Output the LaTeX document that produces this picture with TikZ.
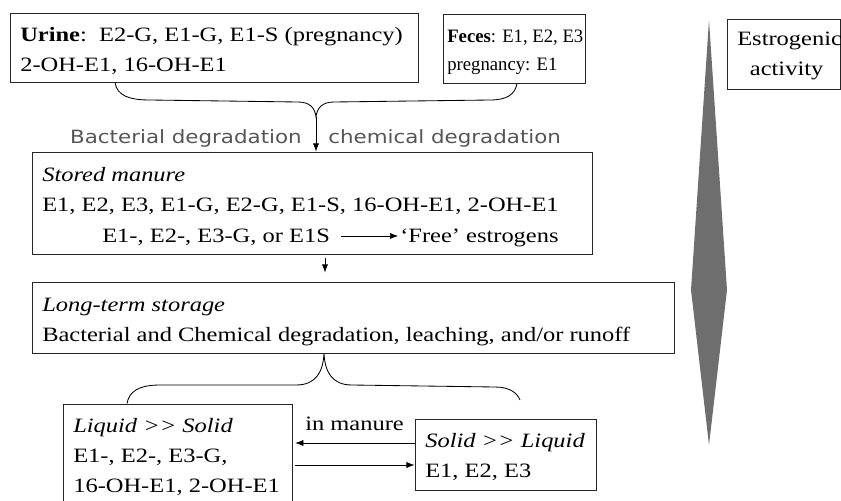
\documentclass[tikz,border=0pt]{standalone}
\usepackage{fontspec}
\usetikzlibrary{fit,arrows.meta}
\newfontfamily\tnr[FakeStretch=1.2]{Liberation Serif}
\newfontfamily\tnrn[FakeStretch=0.985]{Liberation Serif}
\newfontfamily\vrd[FakeStretch=1.17]{DejaVu Sans}
\definecolor{conegray}{HTML}{6E6E6E}
\definecolor{notegray}{HTML}{555555}
\def\txtfont{\tnr\fontsize{14.5}{21.3}\selectfont}
\def\smfont{\tnrn\fontsize{13.5}{19.8}\selectfont}
\def\arr{\draw[-{Latex[length=5.7pt,width=4.3pt]}]}

\begin{document}
\begin{tikzpicture}[x=0.025cm,y=-0.025cm,
    frame/.style={draw=black!85,line width=0.7pt,inner sep=0pt,fit={#1}},
    lines/.style={anchor=north west,inner sep=0pt,align=left,font=\txtfont},
    side/.style={inner sep=0pt,font=\vrd\fontsize{13}{16}\selectfont,text=notegray}]
\useasboundingbox (0,0) rectangle (841,500);

\node[frame={(10,13) (418,82)}] (urine) {};
\node[frame={(443,14) (585,83)}] (feces) {};
\node[frame={(727,19) (840,89)}] (estro) {};
\node[frame={(32,152) (592,254)}] (stored) {};
\node[frame={(32,282) (674,353)}] (longterm) {};
\node[frame={(63,404) (292,530)}] (liquid) {};
\node[frame={(415,419) (596,490)}] (solid) {};

\node[lines] (urinetxt) at (20,20.7) {\strut\textbf{Urine}:\ \ E2-G, E1-G, E1-S (pregnancy)\\2-OH-E1, 16-OH-E1};
\node[lines,font=\smfont] (fecestxt) at (447,23.1) {\strut\textbf{Feces}: E1, E2, E3\\pregnancy: E1};
\node[lines] (estrotxt) at (737,24) {\strut Estrogenic\\\hspace*{9pt}activity};
\node[lines] (storedtxt) at (42,160.7) {\strut\textit{Stored manure}\\E1, E2, E3, E1-G, E2-G, E1-S, 16-OH-E1, 2-OH-E1};
\node[lines,anchor=base west] (conj) at (102,242) {E1-, E2-, E3-G, or E1S};
\node[lines,anchor=base west] (free) at (400,242) {‘Free’ estrogens};
\node[lines] (longtxt) at (42,290) {\strut\textit{Long-term storage}\\Bacterial and Chemical degradation, leaching, and/or runoff};
\node[lines] (liquidtxt) at (73,411) {\strut\textit{Liquid >{}> Solid}\\E1-, E2-, E3-G,\\16-OH-E1, 2-OH-E1};
\node[lines] (solidtxt) at (425,426) {\strut\textit{Solid >{}> Liquid}\\E1, E2, E3};
\node[lines,anchor=base west] (inman) at (305,430) {in manure};

\node[side,anchor=base east] (bact) at (302,143) {Bacterial degradation};
\node[side,anchor=base west] (chem) at (328,143) {chemical degradation};

\fill[conegray] (709,20) -- (727,290) -- (709,445) -- (691,290) -- cycle;

\coordinate (uptip) at (316,117);
\draw[line width=0.6pt] (urine.south -| 115,0) .. controls (117,96) and (130,100) .. (150,100)
    -- (298,102) .. controls (310,102) and (315,108) .. (uptip)
    .. controls (317,108) and (322,102) .. (334,102) -- (490,100)
    .. controls (506,100) and (515,95) .. (feces.south -| 517,0);
\arr (uptip) -- (stored.north -| uptip);

\path ([yshift=4.3pt,xshift=8pt]conj.base east) coordinate (c1) -- ([yshift=4.3pt,xshift=-1.4pt]free.base west) coordinate (c2);
\arr (c1) -- (c2);

\arr[shorten <=2.8pt,shorten >=6.4pt] (stored.south -| 325,0) -- (longterm.north -| 325,0);

\coordinate (lowtip) at (longterm.south -| 324,0);
\draw[line width=0.6pt] (liquid.north -| 127,0) .. controls (129,392) and (138,385) .. (160,385)
    -- (296,385) .. controls (316,385) and (323,372) .. (lowtip)
    .. controls (325,372) and (332,385) .. (352,385) -- (495,387)
    .. controls (510,387) and (517,393) .. (520,400);

\arr[shorten >=2pt] (solid.west |- 0,443) -- (liquid.east |- 0,443);
\arr[shorten <=2pt] (liquid.east |- 0,465) -- (solid.west |- 0,465);
\end{tikzpicture}
\end{document}
